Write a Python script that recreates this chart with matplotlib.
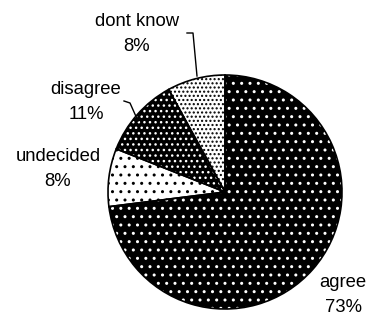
import matplotlib.pyplot as plt

# survey answers, clockwise from 12 o'clock
labels = ['agree', 'undecided', 'disagree', 'dont know']
shares = [73, 8, 11, 8]

faces = ['black', 'white', 'black', 'white']
dots = ['white', 'black', 'white', 'black']
hatches = ['..', '..', '...', '....']

plt.rcParams['font.family'] = ['Liberation Sans', 'DejaVu Sans']
plt.rcParams['hatch.linewidth'] = 1.0

W, H = 373, 317
fig = plt.figure(figsize=(W / 100, H / 100), dpi=100)
ax = fig.add_axes([0, 0, 1, 1])

cx, cy, r = 225, H - 192, 117

# filled wedges with dot hatching (hatch takes the edge colour)
wedges, _ = ax.pie(shares, center=(cx, cy), radius=r, startangle=90,
                   counterclock=False, colors=faces, frame=True)
for w, dc, h in zip(wedges, dots, hatches):
    w.set_edgecolor(dc)
    w.set_linewidth(0)
    w.set_hatch(h)

# black outlines on top
ax.pie(shares, center=(cx, cy), radius=r, startangle=90,
       counterclock=False, frame=True,
       wedgeprops=dict(fill=False, edgecolor='black', linewidth=1.2))
ax.set_xlim(0, W)
ax.set_ylim(0, H)
ax.set_aspect('equal')
ax.axis('off')

# labels (pixel positions from top-left)
label_pos = {'agree': (343, 295), 'undecided': (58, 169),
             'disagree': (86, 102), 'dont know': (137, 34)}
for lab, val in zip(labels, shares):
    x, y = label_pos[lab]
    ax.text(x, H - y, f'{lab}\n{val}%', ha='center', va='center',
            fontsize=13.3, linespacing=1.55)

# leader lines
ax.plot([187, 193, 197], [H - 33, H - 33, H - 76], color='black', lw=1)
ax.plot([124, 130, 138], [H - 101, H - 103, H - 121], color='black', lw=1)

fig.savefig('out.png', dpi=100)
